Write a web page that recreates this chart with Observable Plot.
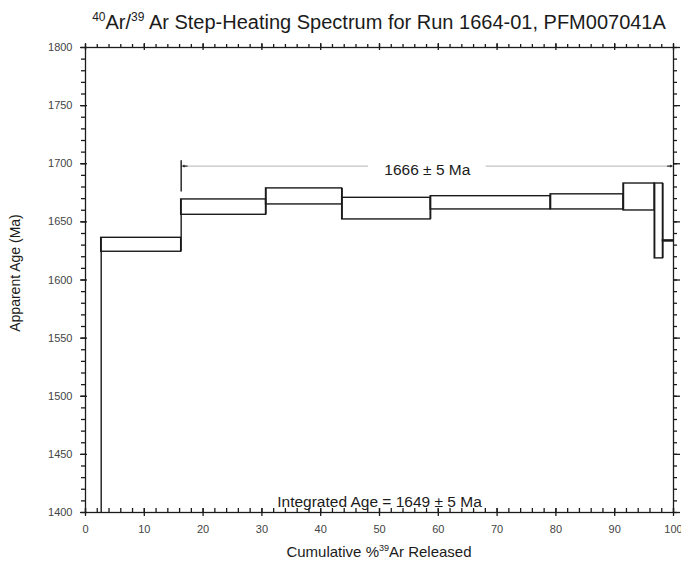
<!DOCTYPE html>
<html>
<head>
<meta charset="utf-8">
<script src="https://cdn.jsdelivr.net/npm/d3@7"></script>
<script src="https://cdn.jsdelivr.net/npm/@observablehq/plot@0.6"></script>
<style>
  body { margin: 0; background: #fff; }
  svg { display: block; }
</style>
</head>
<body>
<div id="chart"></div>
<script>
// ---- Data ----
// cumulative % 39Ar released at the start / end of each heating step
const cumStart = [0, 2.67, 16.27, 30.7, 43.65, 58.7, 79.1, 91.5, 96.8, 98.2];
const cumEnd   = [2.67, 16.27, 30.7, 43.65, 58.7, 79.1, 91.5, 96.8, 98.2, 100];
// apparent age (Ma) and its error (Ma) for each step (first step lies below the axis)
const stepAge  = [1330, 1630.3, 1662.7, 1671.9, 1661.4, 1666.4, 1667.2, 1671.4, 1650.8, 1633.6];
const stepErr  = [15, 6.0, 6.6, 6.9, 9.3, 5.7, 6.5, 11.6, 32.2, 0.5];

const xTickLabels = [0, 10, 20, 30, 40, 50, 60, 70, 80, 90, 100];
const yTickLabels = [1400, 1450, 1500, 1550, 1600, 1650, 1700, 1750, 1800];

const plateauAge = 1666, plateauErr = 5;
const plateauFrom = 16.27, plateauTo = 100;
const plateauArrowAge = 1698;          // level of the plateau arrow
const plateauBar = [1675.6, 1702.5];   // vertical bar at plateau start
const integratedAge = 1649, integratedErr = 5;

const title = ["40", "Ar/", "39", " Ar Step-Heating Spectrum for Run 1664-01, PFM007041A"];
const xLabel = ["Cumulative %", "39", "Ar Released"];
const yLabel = "Apparent Age (Ma)";

// ---- Build tables ----
const steps = cumStart.map((s, i) => ({
  x1: s, x2: cumEnd[i], lo: stepAge[i] - stepErr[i], hi: stepAge[i] + stepErr[i]
}));
const joins = cumEnd.slice(0, -1).map((x, i) => ({
  x,
  lo: Math.min(steps[i].lo, steps[i + 1].lo),
  hi: Math.max(steps[i].hi, steps[i + 1].hi)
}));

const xMinor = d3.range(0, 101, 2);
const yMinor = d3.range(1400, 1801, 10);
const ink = "#1b1b1b";
const plateauMid = (plateauFrom + plateauTo) / 2;
const gapHalf = 10;

// layout
const W = 681, H = 563, mL = 85, mR = 8, mT = 47, mB = 51;
const fw = W - mL - mR, fh = H - mT - mB;

const tickX = (vals, insetTop, insetBottom) =>
  Plot.ruleX(vals, { x: d => d, insetTop, insetBottom, stroke: ink, strokeWidth: 1.3 });
const tickY = (vals, insetLeft, insetRight) =>
  Plot.ruleY(vals, { y: d => d, insetLeft, insetRight, stroke: ink, strokeWidth: 1.3 });

const chart = Plot.plot({
  width: W,
  height: H,
  marginLeft: mL,
  marginRight: mR,
  marginTop: mT,
  marginBottom: mB,
  style: { fontFamily: "'Liberation Sans', Arial, sans-serif", fontSize: "11px", background: "#fff", color: ink },
  x: { domain: [0, 100], axis: null, label: null },
  y: { domain: [1400, 1800], axis: null, label: null },
  marks: [
    // spectrum boxes
    Plot.rect(steps, { x1: "x1", x2: "x2", y1: "lo", y2: "hi", fill: "none", stroke: ink, strokeWidth: 1.4, clip: true }),
    Plot.ruleX(joins, { x: "x", y1: "lo", y2: "hi", stroke: ink, strokeWidth: 1.4, clip: true }),

    // plateau annotation
    Plot.ruleY([plateauArrowAge], { x1: plateauFrom, x2: plateauMid - gapHalf, stroke: "#c4c4c4", strokeWidth: 1.3 }),
    Plot.ruleY([plateauArrowAge], { x1: plateauMid + gapHalf, x2: plateauTo, stroke: "#c4c4c4", strokeWidth: 1.3 }),
    Plot.ruleX([plateauFrom], { y1: plateauBar[0], y2: plateauBar[1], stroke: ink, strokeWidth: 1.4 }),
    Plot.arrow([0], { x1: plateauFrom + 1.0, x2: plateauFrom + 0.3, y1: plateauArrowAge, y2: plateauArrowAge, headLength: 5, stroke: "#333", strokeWidth: 1.3 }),
    Plot.arrow([0], { x1: plateauTo - 1.0, x2: plateauTo - 0.3, y1: plateauArrowAge, y2: plateauArrowAge, headLength: 5, stroke: "#333", strokeWidth: 1.3 }),
    Plot.text([`${plateauAge} ± ${plateauErr} Ma`], { x: plateauMid, y: plateauArrowAge, dy: 4, fontSize: 15.5, fill: ink }),
    Plot.text([`Integrated Age = ${integratedAge} ± ${integratedErr} Ma`], { x: 50, y: 1400, dy: -10, fontSize: 15.5, fill: ink }),

    // frame
    Plot.frame({ stroke: ink, strokeWidth: 1.3 }),

    // bottom ticks: minor inward, major crossing
    tickX(xMinor, fh - 4, 0),
    tickX(xTickLabels, fh - 4, -4),
    // top ticks: minor outward, major crossing
    tickX(xMinor, -3, fh),
    tickX(xTickLabels, -4, fh - 3),
    // left ticks: minor outward, major crossing
    tickY(yMinor, -4, fw),
    tickY(yTickLabels, -5, fw - 2),
    // right ticks: outward
    tickY(yMinor, fw, -4),
    tickY(yTickLabels, fw, -7),

    // tick labels
    Plot.axisX({ anchor: "bottom", ticks: xTickLabels, tickSize: 0, tickPadding: 13, tickFormat: d => String(d), label: null, color: "#444", fontSize: 11 }),
    Plot.axisY({ anchor: "left", ticks: yTickLabels, tickSize: 0, tickPadding: 13, tickFormat: d => String(d), label: null, color: "#444", fontSize: 11 })
  ]
});

document.getElementById("chart").appendChild(chart);

// ---- Titles (with superscripts) ----
const svg = d3.select(chart);
const font = "'Liberation Sans', Arial, sans-serif";

const t = svg.append("text")
  .attr("x", 379).attr("y", 29)
  .attr("text-anchor", "middle")
  .attr("font-family", font).attr("font-size", 20).attr("fill", ink);
title.forEach((s, i) => {
  const sup = i === 0 || i === 2;
  t.append("tspan")
    .attr("font-size", sup ? 12 : 20)
    .attr("dy", sup ? -8 : (i === 0 ? 0 : 8))
    .text(s);
});

const xl = svg.append("text")
  .attr("x", 379).attr("y", 557)
  .attr("text-anchor", "middle")
  .attr("font-family", font).attr("font-size", 15).attr("fill", ink);
xLabel.forEach((s, i) => {
  const sup = i === 1;
  xl.append("tspan")
    .attr("font-size", sup ? 9 : 15)
    .attr("dy", sup ? -6 : (i === 0 ? 0 : 6))
    .text(s);
});

svg.append("text")
  .attr("transform", "translate(20,273) rotate(-90)")
  .attr("text-anchor", "middle")
  .attr("font-family", font).attr("font-size", 14).attr("fill", ink)
  .text(yLabel);
</script>
</body>
</html>
